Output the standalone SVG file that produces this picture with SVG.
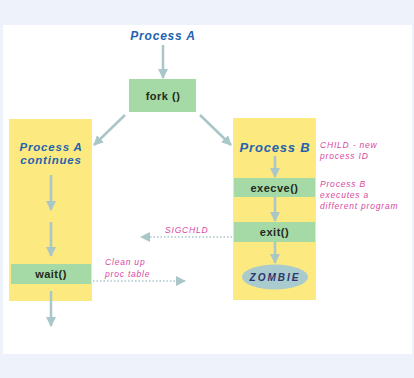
<svg xmlns="http://www.w3.org/2000/svg" width="414" height="378" viewBox="0 0 414 378">
<defs>
<marker id="ah" viewBox="0 0 10 10" refX="9" refY="5" markerWidth="4" markerHeight="4" orient="auto" markerUnits="strokeWidth">
<path d="M0,0 L10,5 L0,10 Z" fill="#a9c6c9"/>
</marker>
<marker id="ahs" viewBox="0 0 10 10" refX="9" refY="5" markerWidth="7" markerHeight="7" orient="auto" markerUnits="strokeWidth">
<path d="M0,0 L10,5 L0,10 Z" fill="#a9c6c9"/>
</marker>
</defs>
<style>
.title{font-family:"Liberation Sans",Arial,sans-serif;font-weight:bold;font-style:italic;fill:#1f62b0;letter-spacing:0.8px}
.note{font-family:"Liberation Sans",Arial,sans-serif;font-style:italic;font-size:8.5px;fill:#d9489f;letter-spacing:0.8px}
.box{fill:#a5d9a5}
.yel{fill:#fce97f}
.btxt{font-family:"Liberation Sans",Arial,sans-serif;font-weight:bold;font-size:11px;fill:#1e2a1e;text-anchor:middle;letter-spacing:0.5px}
.arr{stroke:#a9c6c9;stroke-width:2.5;fill:none;marker-end:url(#ah)}
.dot{stroke:#a9c6c9;stroke-width:1.5;stroke-dasharray:1.5 2;fill:none;marker-end:url(#ahs)}
</style>
<rect x="0" y="0" width="414" height="378" fill="#eef2fa"/>
<rect x="3" y="25" width="409" height="329" fill="#ffffff"/>
<g id="left-lane"><rect class="yel" x="9" y="119" width="83" height="182"/></g>
<g id="right-lane"><rect class="yel" x="233" y="118" width="83" height="182"/></g>
<g id="processA"><text class="title" x="163" y="40" font-size="12" text-anchor="middle">Process A</text></g>
<g id="fork"><rect class="box" x="129" y="79" width="67" height="33"/><text class="btxt" x="163" y="100" font-size="12.5">fork ()</text></g>
<g id="processAcont"><text class="title" x="51" y="151" font-size="11.5" text-anchor="middle">Process A</text><text class="title" x="51" y="164" font-size="11.5" text-anchor="middle">continues</text></g>
<g id="processB"><text class="title" x="275" y="152" font-size="13" text-anchor="middle">Process B</text></g>
<g id="child-note"><text class="note" x="320" y="148">CHILD - new</text><text class="note" x="320" y="159">process ID</text></g>
<g id="execve"><rect class="box" x="234" y="178" width="81" height="19"/><text class="btxt" x="274.5" y="191.5">execve()</text></g>
<g id="execve-note"><text class="note" x="320" y="187">Process B</text><text class="note" x="320" y="198">executes a</text><text class="note" x="320" y="209">different program</text></g>
<g id="exit"><rect class="box" x="234" y="222" width="81" height="20"/><text class="btxt" x="274.5" y="236">exit()</text></g>
<g id="zombie"><ellipse cx="275" cy="277" rx="33" ry="12.5" fill="#a9cbce"/><text x="275" y="281" font-family="'Liberation Sans',Arial,sans-serif" font-style="italic" font-weight="bold" font-size="10" fill="#2f3570" text-anchor="middle" letter-spacing="2">ZOMBIE</text></g>
<g id="wait"><rect class="box" x="11" y="264" width="80" height="20"/><text class="btxt" x="51" y="278">wait()</text></g>
<g id="sigchld"><text class="note" x="165" y="233">SIGCHLD</text></g>
<g id="cleanup"><text class="note" x="105" y="265">Clean up</text><text class="note" x="105" y="277">proc table</text></g>
<g id="connectors">
<line class="arr" x1="163" y1="45" x2="163" y2="78"/>
<line class="arr" x1="125" y1="115" x2="94" y2="145"/>
<line class="arr" x1="200" y1="115" x2="231" y2="145"/>
<line class="arr" x1="51" y1="175" x2="51" y2="210"/>
<line class="arr" x1="51" y1="222" x2="51" y2="256"/>
<line class="arr" x1="51" y1="291" x2="51" y2="326"/>
<line class="arr" x1="275" y1="156" x2="275" y2="177"/>
<line class="arr" x1="275" y1="197" x2="275" y2="221"/>
<line class="arr" x1="275" y1="242" x2="275" y2="263"/>
<line class="dot" x1="232" y1="237" x2="141" y2="237"/>
<line class="dot" x1="93" y1="281" x2="185" y2="281"/>
</g>
</svg>
